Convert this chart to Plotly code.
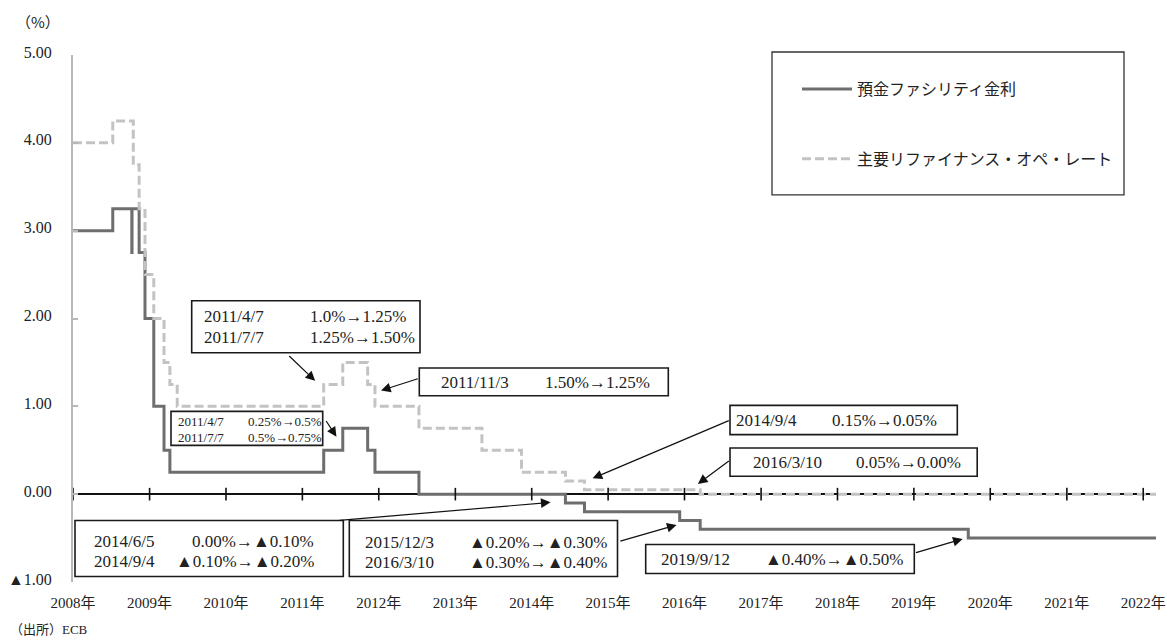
import plotly.graph_objects as go

# ---------------- data ----------------
deposit_dates = ["2008-01-01", "2008-07-09", "2008-10-08", "2008-10-09", "2008-11-12",
                 "2008-12-10", "2009-01-21", "2009-03-11", "2009-04-08", "2011-04-13",
                 "2011-07-13", "2011-11-09", "2011-12-14", "2012-07-11", "2014-06-11",
                 "2014-09-10", "2015-12-09", "2016-03-16", "2019-09-18", "2022-03-03"]
deposit_rates = [3.00, 3.25, 2.75, 3.25, 2.75, 2.00, 1.00, 0.50, 0.25, 0.50,
                 0.75, 0.50, 0.25, 0.00, -0.10, -0.20, -0.30, -0.40, -0.50, -0.50]

mro_dates = ["2008-01-01", "2008-07-09", "2008-10-15", "2008-11-12", "2008-12-10",
             "2009-01-21", "2009-03-11", "2009-04-08", "2009-05-13", "2011-04-13",
             "2011-07-13", "2011-11-09", "2011-12-14", "2012-07-11", "2013-05-08",
             "2013-11-13", "2014-06-11", "2014-09-10", "2016-03-16", "2022-03-03"]
mro_rates = [4.00, 4.25, 3.75, 3.25, 2.50, 2.00, 1.50, 1.25, 1.00, 1.25,
             1.50, 1.25, 1.00, 0.75, 0.50, 0.25, 0.15, 0.05, 0.00, 0.00]

series_names = ["預金ファシリティ金利", "主要リファイナンス・オペ・レート"]

year_ticks = [f"{y}-01-01" for y in range(2008, 2023)]
year_labels = [f"{y}年" for y in range(2008, 2023)]

y_ticks = [-1, 0, 1, 2, 3, 4, 5]
y_labels = ["▲1.00", "0.00", "1.00", "2.00", "3.00", "4.00", "5.00"]

x_range = ["2008-01-01", "2022-03-03"]
y_range = [-1, 5]

# ---------------- layout geometry (pixels) ----------------
W, H = 1167, 640
L, R, T, B = 73, 1156, 55, 582.5

def px(xp):
    return (xp - L) / (R - L)

def py(yp):
    return (B - yp) / (B - T)

SERIF = "Liberation Serif, Noto Sans CJK JP, serif"
SANS = "Noto Sans CJK JP, sans-serif"
TXT = "#222222"

DEP_COLOR = "#6e6e6e"
MRO_COLOR = "#c3c3c3"

fig = go.Figure()

fig.add_trace(go.Scatter(
    x=deposit_dates, y=deposit_rates, mode="lines", line_shape="hv",
    name=series_names[0], legendgroup="a",
    line=dict(color=DEP_COLOR, width=3), hoverinfo="skip"))

fig.add_trace(go.Scatter(
    x=mro_dates, y=mro_rates, mode="lines", line_shape="hv",
    name=series_names[1], legendgroup="b",
    line=dict(color=MRO_COLOR, width=3, dash="9px,4px"), hoverinfo="skip"))

# tick marks crossing the zero line
fig.add_trace(go.Scatter(
    x=year_ticks, y=[0] * len(year_ticks), mode="markers", showlegend=False,
    marker=dict(symbol="line-ns", size=9, line=dict(color="#111111", width=1.6)),
    hoverinfo="skip"))

# ---------------- annotation boxes ----------------
boxes = [
    (191.7, 301, 420, 353),
    (171, 411.7, 322.7, 445.7),
    (419.3, 368.3, 668.3, 396),
    (730, 405.7, 957.3, 435),
    (730, 448.3, 977.2, 476.7),
    (75, 521, 343.3, 577),
    (349.3, 521, 617.5, 577),
    (645.7, 545, 914.3, 574),
]
shapes = []
for x0, y0, x1, y1 in boxes:
    shapes.append(dict(type="rect", xref="paper", yref="paper",
                       x0=px(x0), x1=px(x1), y0=py(y1), y1=py(y0),
                       line=dict(color="#1a1a1a", width=1.6),
                       fillcolor="white", layer="above"))

# legend frame
shapes.append(dict(type="rect", xref="paper", yref="paper",
                   x0=px(772), x1=px(1124), y0=py(195), y1=py(52),
                   line=dict(color="#333333", width=1.3), fillcolor="rgba(0,0,0,0)",
                   layer="above"))

# text cells: (text, x, y, anchor, size)
cells = [
    ("2011/4/7", 201.7, 316.7, "left", 17), ("1.0%→1.25%", 308, 316.7, "left", 17),
    ("2011/7/7", 201.7, 337.7, "left", 17), ("1.25%→1.50%", 308, 337.7, "left", 17),
    ("2011/4/7", 176, 422.3, "left", 13), ("0.25%→0.5%", 246, 422.3, "left", 13),
    ("2011/7/7", 176, 437.7, "left", 13), ("0.5%→0.75%", 246, 437.7, "left", 13),
    ("2011/11/3", 439.3, 383, "left", 17), ("1.50%→1.25%", 543.3, 383, "left", 17),
    ("2014/9/4", 734.3, 421, "left", 17), ("0.15%→0.05%", 830.4, 421, "left", 17),
    ("2016/3/10", 751, 463, "left", 17), ("0.05%→0.00%", 854.3, 463, "left", 17),
    ("2014/6/5", 91.7, 541.7, "left", 17), ("0.00%→▲0.10%", 316, 541.7, "right", 17),
    ("2014/9/4", 91.7, 561.7, "left", 17), ("▲0.10%→▲0.20%", 316, 561.7, "right", 17),
    ("2015/12/3", 362.5, 543.3, "left", 17), ("▲0.20%→▲0.30%", 466.6, 543.3, "left", 17),
    ("2016/3/10", 362.5, 563.3, "left", 17), ("▲0.30%→▲0.40%", 466.6, 563.3, "left", 17),
    ("2019/9/12", 659, 560, "left", 17), ("▲0.40%→▲0.50%", 763.3, 560, "left", 17),
]
annotations = []
for text, x, y, anchor, size in cells:
    annotations.append(dict(text=text, xref="paper", yref="paper", x=px(x), y=py(y),
                            xanchor=anchor, yanchor="middle", showarrow=False,
                            font=dict(family=SERIF, size=size, color=TXT)))

# arrows: (head_x, head_y, tail_x, tail_y) in data coordinates
arrows = [
    ("2011-03-03", 1.29, "2010-10-23", 1.59),
    ("2011-06-13", 0.655, "2011-04-20", 0.85),
    ("2012-01-12", 1.18, "2012-07-13", 1.32),
    ("2014-10-19", 0.18, "2016-08-07", 0.845),
    ("2016-03-05", 0.117, "2016-08-07", 0.39),
    ("2014-04-01", -0.093, "2011-06-20", -0.30),
    ("2015-11-24", -0.35, "2015-02-21", -0.54),
    ("2019-08-22", -0.51, "2019-01-04", -0.67),
]
for hx, hy, tx, ty in arrows:
    annotations.append(dict(text="", x=hx, y=hy, xref="x", yref="y",
                            ax=tx, ay=ty, axref="x", ayref="y",
                            showarrow=True, arrowhead=2, arrowsize=1.6,
                            arrowwidth=1.2, arrowcolor="#111111", standoff=0))

annotations.append(dict(text="（%）", xref="paper", yref="paper", x=px(37.5), y=py(21),
                        xanchor="center", yanchor="middle", showarrow=False,
                        font=dict(family=SANS, size=15, color=TXT)))
annotations.append(dict(text="（出所）ECB", xref="paper", yref="paper", x=px(8), y=py(630),
                        xanchor="left", yanchor="middle", showarrow=False,
                        font=dict(family=SERIF, size=13, color=TXT)))

fig.update_layout(
    template="none",
    width=W, height=H, autosize=False,
    margin=dict(l=L, r=W - R, t=T, b=H - B, pad=0, autoexpand=False),
    plot_bgcolor="white", paper_bgcolor="white",
    shapes=shapes, annotations=annotations,
    showlegend=True,
    legend=dict(x=px(797), y=py(72), xanchor="left", yanchor="top",
                bgcolor="rgba(0,0,0,0)", borderwidth=0, tracegroupgap=46,
                itemwidth=50,
                font=dict(family=SANS, size=16, color=TXT)),
    xaxis=dict(type="date", range=x_range, tickvals=year_ticks, ticktext=year_labels,
               showgrid=False, showline=False, zeroline=False, ticks="",
               automargin=False, ticklabelstandoff=10,
               tickfont=dict(family=SERIF, size=15, color=TXT)),
    yaxis=dict(range=y_range, tickvals=y_ticks, ticktext=y_labels,
               showgrid=False, showline=True, linecolor="#b8b8b8", linewidth=2,
               ticks="inside", ticklen=5, tickwidth=2, tickcolor="#b8b8b8",
               zeroline=True, zerolinecolor="#111111", zerolinewidth=2,
               automargin=False, ticklabelstandoff=16, ticklabelshift=-3,
               tickfont=dict(family=SERIF, size=16, color=TXT)),
)

fig.write_html("out.html",
               config={"displayModeBar": False, "responsive": False},
               post_script="document.body.style.margin='0';")
